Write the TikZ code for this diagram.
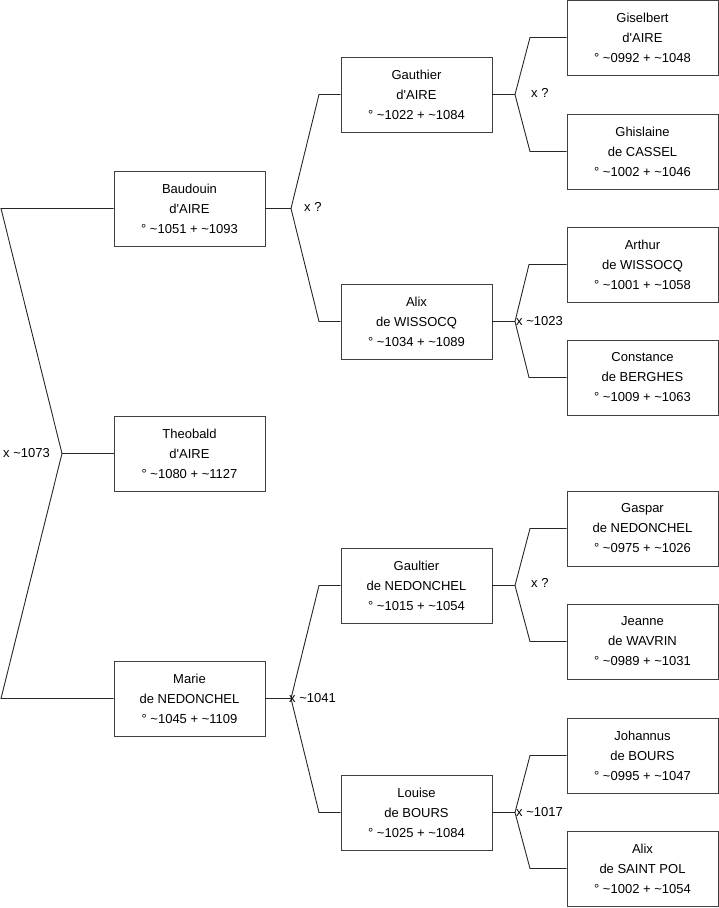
\documentclass[tikz,border=0pt]{standalone}
\usepackage{fontspec}
\setmainfont{Liberation Sans}
\usetikzlibrary{positioning}
\newcommand{\ca}{\textasciitilde}
\newcommand{\ap}{\textquotesingle}

\begin{document}
\begin{tikzpicture}[
  x=1pt, y=-1pt,
  person/.style={draw=black!75, line width=0.9pt, fill=white, minimum width=151pt, minimum height=75pt, inner sep=0pt, align=center, font=\fontsize{13}{20}\selectfont},
  link/.style={draw=black!85, line width=0.9pt},
  wed/.style={anchor=west, inner sep=0pt, font=\fontsize{13}{15}\selectfont}
]
\useasboundingbox (0,0) rectangle (719,908);
% children
\node[person] (baudouin) at (189.5,208.5) {Baudouin\\d\ap AIRE\\° \ca1051 + \ca1093};
\node[person] (theobald) at (189.5,453.5) {Theobald\\d\ap AIRE\\° \ca1080 + \ca1127};
\node[person] (marie) at (189.5,698.5) {Marie\\de NEDONCHEL\\° \ca1045 + \ca1109};
% parents
\node[person] (gauthier) at (416.5,94.5) {Gauthier\\d\ap AIRE\\° \ca1022 + \ca1084};
\node[person] (alixw) at (416.5,321.5) {Alix\\de WISSOCQ\\° \ca1034 + \ca1089};
\node[person] (gaultier) at (416.5,585.5) {Gaultier\\de NEDONCHEL\\° \ca1015 + \ca1054};
\node[person] (louise) at (416.5,812.5) {Louise\\de BOURS\\° \ca1025 + \ca1084};
% grandparents
\node[person] (giselbert) at (642.5,37.5) {Giselbert\\d\ap AIRE\\° \ca0992 + \ca1048};
\node[person] (ghislaine) at (642.5,151.5) {Ghislaine\\de CASSEL\\° \ca1002 + \ca1046};
\node[person] (arthur) at (642.5,264.5) {Arthur\\de WISSOCQ\\° \ca1001 + \ca1058};
\node[person] (constance) at (642.5,377.5) {Constance\\de BERGHES\\° \ca1009 + \ca1063};
\node[person] (gaspar) at (642.5,528.5) {Gaspar\\de NEDONCHEL\\° \ca0975 + \ca1026};
\node[person] (jeanne) at (642.5,641.5) {Jeanne\\de WAVRIN\\° \ca0989 + \ca1031};
\node[person] (johannus) at (642.5,755.5) {Johannus\\de BOURS\\° \ca0995 + \ca1047};
\node[person] (alixsp) at (642.5,868.5) {Alix\\de SAINT POL\\° \ca1002 + \ca1054};

% junctions
\coordinate (jsib) at (62,453.5);
\coordinate (jbau) at (291,208.5);
\coordinate (jmar) at (291,698.5);
\coordinate (jgau) at (515,94.5);
\coordinate (jali) at (515,321.5);
\coordinate (jgal) at (515,585.5);
\coordinate (jlou) at (515,812.5);

% siblings
\draw[link] (theobald.west) -- (jsib);
\draw[link] (baudouin.west) -- (1,208.5) -- (jsib) -- (1,698.5) -- (marie.west);
\node[wed] (wsib) at (3,453.5) {x \ca1073};

% couples
\draw[link] (baudouin.east) -- (jbau);
\draw[link] (gauthier.west) -- (319,94.5) -- (jbau) -- (319,321.5) -- (alixw.west);
\node[wed] (wbau) at (304,207) {x ?};

\draw[link] (marie.east) -- (jmar);
\draw[link] (gaultier.west) -- (319,585.5) -- (jmar) -- (319,812.5) -- (louise.west);
\node[wed] (wmar) at (289,698.5) {x \ca1041};

\draw[link] (gauthier.east) -- (jgau);
\draw[link] (giselbert.west) -- (530,37.5) -- (jgau) -- (530,151.5) -- (ghislaine.west);
\node[wed] (wgau) at (531,93) {x ?};

\draw[link] (alixw.east) -- (jali);
\draw[link] (arthur.west) -- (529,264.5) -- (jali) -- (529,377.5) -- (constance.west);
\node[wed] (wali) at (516,321.5) {x \ca1023};

\draw[link] (gaultier.east) -- (jgal);
\draw[link] (gaspar.west) -- (530,528.5) -- (jgal) -- (530,641.5) -- (jeanne.west);
\node[wed] (wgal) at (531,583) {x ?};

\draw[link] (louise.east) -- (jlou);
\draw[link] (johannus.west) -- (530,755.5) -- (jlou) -- (530,868.5) -- (alixsp.west);
\node[wed] (wlou) at (516,812) {x \ca1017};
\end{tikzpicture}
\end{document}
